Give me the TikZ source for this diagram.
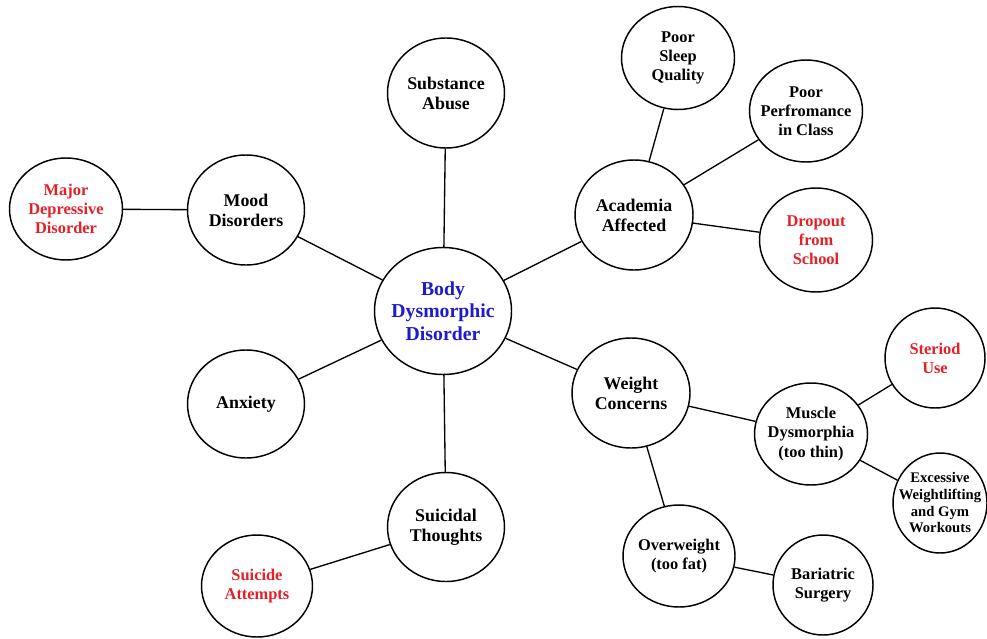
\documentclass[tikz,border=0pt]{standalone}
\usepackage{fontspec}
\setmainfont{Liberation Serif}
\usepackage{xcolor}
\usetikzlibrary{shapes.geometric}
\definecolor{mapred}{RGB}{226,32,40}
\definecolor{mapblue}{RGB}{28,28,204}

\begin{document}
\begin{tikzpicture}[x=0.75pt,y=-0.75pt,
  bubble/.style={ellipse,draw,line width=1.1pt,inner sep=-12pt,align=center,
    font=\bfseries\fontsize{13.4}{15}\selectfont},
  leaf/.style={bubble,font=\bfseries\fontsize{12.3}{14.3}\selectfont},
  sz/.style n args={2}{minimum width=#1pt,minimum height=#2pt},
  link/.style={line width=1pt}]
  \useasboundingbox[fill=white] (0,0) rectangle (987,638);

  % Centre
  \node[bubble,sz={102.75}{95.25},text=mapblue,
    font=\bfseries\fontsize{14.8}{17}\selectfont] (bdd) at (443,311)
    {Body\\Dysmorphic\\Disorder};

  % First ring
  \node[bubble,sz={87.75}{82.5}] (abuse) at (446,93) {Substance\\Abuse};
  \node[bubble,sz={87.75}{82.5}] (mood) at (246,210) {Mood\\Disorders};
  \node[bubble,sz={87.75}{81}] (anxiety) at (246,404) {Anxiety};
  \node[bubble,sz={87.75}{81.75}] (suicidal) at (446,527) {Suicidal\\Thoughts};
  \node[bubble,sz={88.5}{82.5}] (academia) at (634,215) {Academia\\Affected};
  \node[bubble,sz={88.5}{82.5}] (weight) at (631,393) {Weight\\Concerns};

  % Outer ring
  \node[leaf,sz={84.75}{76.5},text=mapred] (depress) at (66,209) {Major\\Depressive\\Disorder};
  \node[leaf,sz={83.25}{76.5},text=mapred] (attempts) at (257,586) {Suicide\\Attempts};
  \node[leaf,sz={84.75}{77.25}] (sleep) at (678,58) {Poor\\Sleep\\Quality};
  \node[leaf,sz={84.75}{76.5}] (grades) at (806,111) {Poor\\Perfromance\\in Class};
  \node[leaf,sz={84.75}{78},text=mapred] (dropout) at (816,240) {Dropout\\from\\School};
  \node[leaf,sz={84.75}{76.5}] (muscle) at (811,434) {Muscle\\Dysmorphia\\(too thin)};
  \node[leaf,sz={84}{76.5}] (fat) at (679,556) {Overweight\\(too fat)};
  \node[leaf,sz={75}{75},text=mapred] (steroid) at (935,358) {Steriod\\Use};
  \node[leaf,sz={70.5}{75},font=\bfseries\fontsize{11}{12.5}\selectfont] (gym) at (940,503)
    {Excessive\\Weightlifting\\and Gym\\Workouts};
  \node[leaf,sz={75}{75}] (surgery) at (823,585) {Bariatric\\Surgery};

  % Links
  \draw[link] (bdd) -- (abuse);
  \draw[link] (bdd) -- (mood);
  \draw[link] (bdd) -- (anxiety);
  \draw[link] (bdd) -- (suicidal);
  \draw[link] (bdd) -- (academia);
  \draw[link] (bdd) -- (weight);
  \draw[link] (mood) -- (depress);
  \draw[link] (suicidal) -- (attempts);
  \draw[link] (academia) -- (sleep);
  \draw[link] (academia) -- (grades);
  \draw[link] (academia) -- (dropout);
  \draw[link] (weight) -- (muscle);
  \draw[link] (weight) -- (fat);
  \draw[link] (muscle) -- (steroid);
  \draw[link] (muscle) -- (gym);
  \draw[link] (fat) -- (surgery);
\end{tikzpicture}
\end{document}
